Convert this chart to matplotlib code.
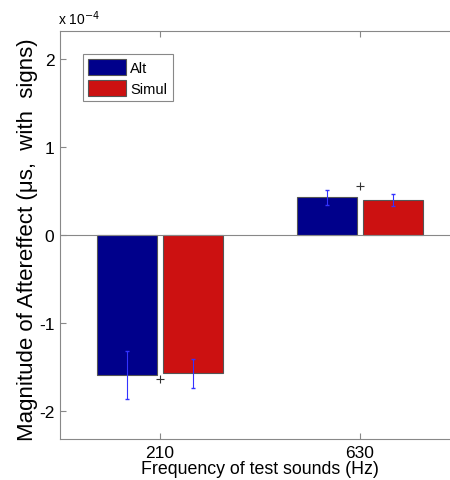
import numpy as np
import matplotlib.pyplot as plt

plt.rcParams['font.family'] = ['Liberation Sans', 'DejaVu Sans']

# data (units of 1e-4 microseconds)
freqs = ['210', '630']
alt_vals = [-1.59, 0.43]
alt_err = [0.27, 0.085]
simul_vals = [-1.57, 0.40]
simul_err = [0.165, 0.07]
plus_vals = [-1.64, 0.56]

fig = plt.figure(figsize=(4.5, 4.81), dpi=100)
# axes runs past the right edge of the figure, like the cropped original
ax = fig.add_axes([60 / 450, 41 / 481, 400 / 450, 408 / 481])

x = np.arange(1, len(freqs) + 1)
w = 0.3
off = 0.167
ax.bar(x - off, alt_vals, w, color='#00008b', edgecolor='#555555', linewidth=0.8, label='Alt')
ax.bar(x + off, simul_vals, w, color='#cc1111', edgecolor='#555555', linewidth=0.8, label='Simul')
ax.errorbar(x - off, alt_vals, yerr=alt_err, fmt='none', ecolor='#3333ff', elinewidth=0.8, capsize=1.5)
ax.errorbar(x + off, simul_vals, yerr=simul_err, fmt='none', ecolor='#3333ff', elinewidth=0.8, capsize=1.5)
ax.plot(x, plus_vals, '+', color='#333333', markersize=6, markeredgewidth=0.8)

ax.axhline(0, color='#888888', linewidth=0.8)
ax.set_xlim(0.5, 2.5)
ax.set_ylim(-2.32, 2.32)
ax.set_xticks(x)
ax.set_xticklabels(freqs, fontsize=12.5)
ax.set_yticks([-2, -1, 0, 1, 2])
ax.set_yticklabels(['-2', '-1', '0', '1', '2'], fontsize=12.5)
ax.tick_params(direction='in', length=4, color='#888888', top=True, right=True, pad=4)
for s in ax.spines.values():
    s.set_color('#888888')

ax.text(-0.005, 1.01, r'x 10$^{-4}$', transform=ax.transAxes, fontsize=10, va='bottom', ha='left')
ax.set_xlabel('Frequency of test sounds (Hz)', fontsize=12.8, labelpad=0)
ax.set_ylabel('Magnitude of Aftereffect (\u03bcs,  with  signs)', fontsize=16)
ax.yaxis.set_label_coords(-0.055, 0.49)

leg = ax.legend(loc='upper left', bbox_to_anchor=(0.0575, 0.944), borderaxespad=0, fontsize=10.5,
                fancybox=False, edgecolor='#888888', handlelength=2.6, handleheight=1.3,
                borderpad=0.35, labelspacing=0.35, handletextpad=0.3, framealpha=1)
leg.get_frame().set_linewidth(0.8)

fig.savefig('out.png', dpi=100)
